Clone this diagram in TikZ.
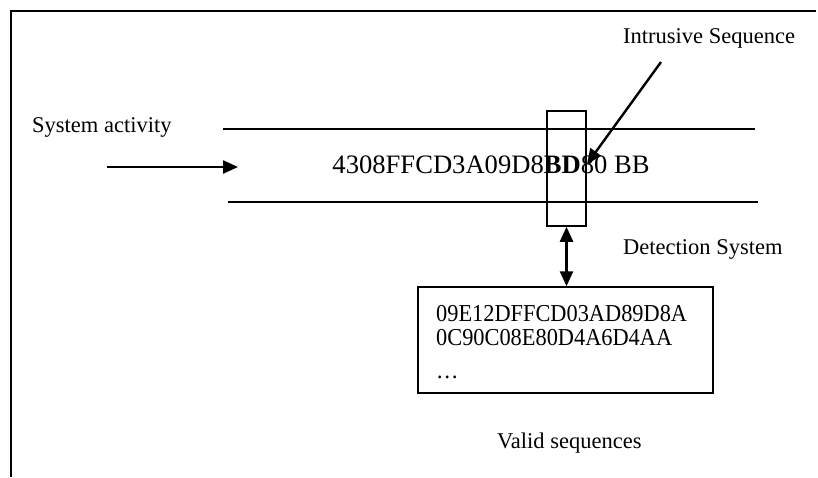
\documentclass[tikz,border=0pt]{standalone}
\usepackage{fontspec}
\setmainfont{Liberation Serif}
\newfontfamily\seqfont[FakeStretch=0.92]{Liberation Serif}
\usetikzlibrary{arrows.meta}
\tikzset{
  rule/.style={line width=1.5pt},
  label/.style={inner sep=0pt, anchor=base west, font=\fontsize{22.5}{26}\selectfont},
  tip/.style={Triangle[length=15pt,width=13pt]},
  arrowline/.style={line width=2.4pt, -{Triangle[length=15pt,width=13pt]}},
  seqline/.style={inner sep=0pt, anchor=base west, font=\seqfont\fontsize{24.3}{28}\selectfont},
}
\begin{document}
\begin{tikzpicture}[x=1pt,y=-1pt]
\useasboundingbox (0,0) rectangle (818,477);

% outer frame (top and left edges only)
\coordinate (fTL) at (11,11);
\coordinate (fTR) at (816,11);
\coordinate (fBL) at (11,477);
\draw[rule] (fTR) -- (fTL) -- (fBL);

% the stream of system activity
\coordinate (s1a) at (223,129); \coordinate (s1b) at (755,129);
\coordinate (s2a) at (228,202); \coordinate (s2b) at (758,202);
\draw[rule] (s1a) -- (s1b);
\draw[rule] (s2a) -- (s2b);
\node[inner sep=0pt, anchor=base, font=\fontsize{26.6}{31}\selectfont] (stream) at (491,173)
  {4308FFCD3A09D8\textbf{BD}80 BB};

% detection window
\node[draw, rule, minimum width=39pt, minimum height=115pt, inner sep=0pt] (win) at (566.5,168.5) {};

% store of valid sequences
\node[draw, rule, minimum width=295pt, minimum height=106pt, inner sep=0pt] (valid) at (565.5,340) {};
\node[seqline] (v1) at (436,321) {09E12DFFCD03AD89D8A};
\node[seqline] (v2) at (436,345) {0C90C08E80D4A6D4AA};
\node[seqline] (v3) at (436,378) {\dots};

% labels
\node[label] (lsa) at (32,132) {System activity};
\node[label] (lis) at (623,43) {Intrusive Sequence};
\node[label] (lds) at (623,254) {Detection System};
\node[label] (lvs) at (497,448) {Valid sequences};

% arrows
\coordinate (saStart) at (107,167);
\coordinate (saEnd) at (238,167);
\draw[arrowline] (saStart) -- (saEnd);

\coordinate (isStart) at (661,62);
\coordinate (isEnd) at (587,164);
\draw[arrowline] (isStart) -- (isEnd);

\draw[line width=2.4pt, {Triangle[length=15pt,width=13pt]}-{Triangle[length=15pt,width=13pt]}]
  (win.south) -- (win.south |- valid.north);
\end{tikzpicture}
\end{document}
